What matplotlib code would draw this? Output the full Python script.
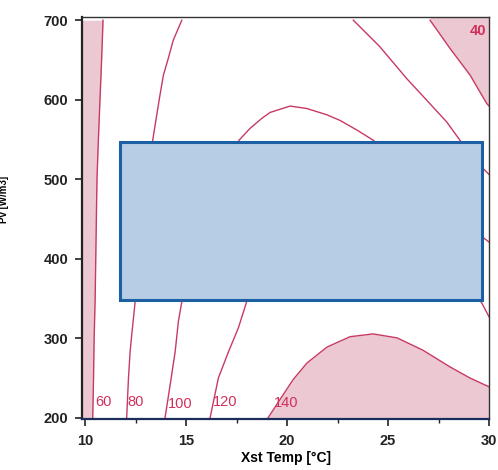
import numpy as np
import matplotlib
matplotlib.use('Agg')
import matplotlib.pyplot as plt
from matplotlib.patches import Rectangle

plt.rcParams['font.family'] = ['Liberation Sans', 'DejaVu Sans']

# contour lines: (Xst Temp, Pv)
c60_x = [10.38, 10.42, 10.45, 10.50, 10.53, 10.56, 10.59, 10.66, 10.74, 10.82, 10.89]
c60_y = [200, 250, 300, 350, 400, 450, 500, 550, 600, 650, 700]

c80_x = [12.06, 12.15, 12.23, 12.31, 12.48, 13.35, 13.55, 13.71, 13.88, 14.12, 14.37, 14.79]
c80_y = [200, 250, 283, 304, 346, 549, 581, 606, 631, 652, 675, 700]

c100_x = [13.96, 14.21, 14.46, 14.62, 14.79, 17.62, 18.17, 18.75, 19.16, 20.15, 20.97,
          21.98, 22.62, 23.45, 24.27, 27.5, 30.0]
c100_y = [200, 241, 283, 321, 346, 549, 564, 576.5, 584, 592, 589,
          581, 574, 562, 549, 470, 421]

c120_x = [16.19, 16.60, 17.10, 17.59, 18.0, 20.5, 24.0, 27.5, 29.65, 30.0]
c120_y = [200, 250, 283, 313, 346, 440, 460, 420, 344, 327]

c140_x = [19.06, 19.65, 20.30, 20.99, 21.98, 23.12, 24.26, 25.45, 26.73, 28.07, 29.06, 30.0]
c140_y = [200, 223, 248, 269, 289, 302, 305.5, 300.5, 285, 264, 250, 239]

c60b_x = [23.28, 24.60, 25.92, 26.91, 27.90, 28.56, 29.65, 30.0]
c60b_y = [700, 666.5, 626.7, 599.5, 572.2, 549, 515, 506]

c40_x = [27.08, 28.07, 29.06, 29.88, 30.0]
c40_y = [700, 664.4, 631, 595.4, 592]

# contour labels
lab_text = ['60', '80', '100', '120', '140', '40']
lab_x = [10.91, 12.48, 14.7, 16.95, 19.95, 29.45]
lab_y = [220, 220, 217, 220, 218, 687]
lab_bold = [False, False, False, False, False, True]

# overlay rectangle
box_x = [11.75, 29.65]
box_y = [348, 547]

x_ticks = [10, 15, 20, 25, 30]
y_ticks = [200, 300, 400, 500, 600, 700]

line_col = '#c83a62'
fill_col = '#ecc8d3'
text_col = '#d0305c'

fig = plt.figure(figsize=(4.98, 4.70), dpi=100)
ax = fig.add_axes([0.1647, 0.1085, 0.8173, 0.8553])
xmin, xmax = 9.85, 30.0
ymin, ymax = 198.5, 704
ax.set_xlim(xmin, xmax)
ax.set_ylim(ymin, ymax)

# shaded regions
ax.fill_betweenx(c60_y, xmin, c60_x, color=fill_col, lw=0)
ax.fill_between(c40_x, c40_y, ymax, color=fill_col, lw=0)
ax.fill_between(c140_x, ymin, c140_y, color=fill_col, lw=0)

for cx, cy in [(c60_x, c60_y), (c80_x, c80_y), (c100_x, c100_y), (c120_x, c120_y),
               (c140_x, c140_y), (c60b_x, c60b_y), (c40_x, c40_y)]:
    ax.plot(cx, cy, color=line_col, lw=1.0, zorder=2)

for t, lx, ly, b in zip(lab_text, lab_x, lab_y, lab_bold):
    ax.text(lx, ly, t, color=text_col, fontsize=10.5, ha='center', va='center', zorder=5,
            fontweight='bold' if b else 'normal', clip_on=True)

ax.add_patch(Rectangle((box_x[0], box_y[0]), box_x[1] - box_x[0], box_y[1] - box_y[0],
                       facecolor='#b7cde6', edgecolor='#1c5fa3', lw=2.2, zorder=4))

ax.set_xticks(x_ticks)
ax.set_xticks([12.5, 17.5, 22.5, 27.5], minor=True)
ax.set_yticks(y_ticks)
ax.tick_params(axis='both', which='major', direction='out', length=5, width=1.2,
               labelsize=10.5, colors='#222222')
ax.tick_params(axis='x', which='minor', direction='out', length=3, width=1.0, colors='#222222')
ax.tick_params(axis='x', pad=6)
ax.tick_params(axis='y', pad=5)
for lab in ax.get_xticklabels() + ax.get_yticklabels():
    lab.set_fontweight('bold')

for s in ['left', 'bottom']:
    ax.spines[s].set_linewidth(1.6)
ax.spines['left'].set_color('#222222')
ax.spines['bottom'].set_color('#1b2d5c')
for s in ['top', 'right']:
    ax.spines[s].set_linewidth(1.0)
    ax.spines[s].set_color('#333333')

ax.set_xlabel('Xst Temp [°C]', fontsize=10, fontweight='bold', labelpad=2)
ax.set_ylabel('Pv [W/m3]', fontsize=7, fontweight='bold')
ax.yaxis.set_label_coords(-0.18, 0.545)

fig.savefig('out.png', dpi=100)
